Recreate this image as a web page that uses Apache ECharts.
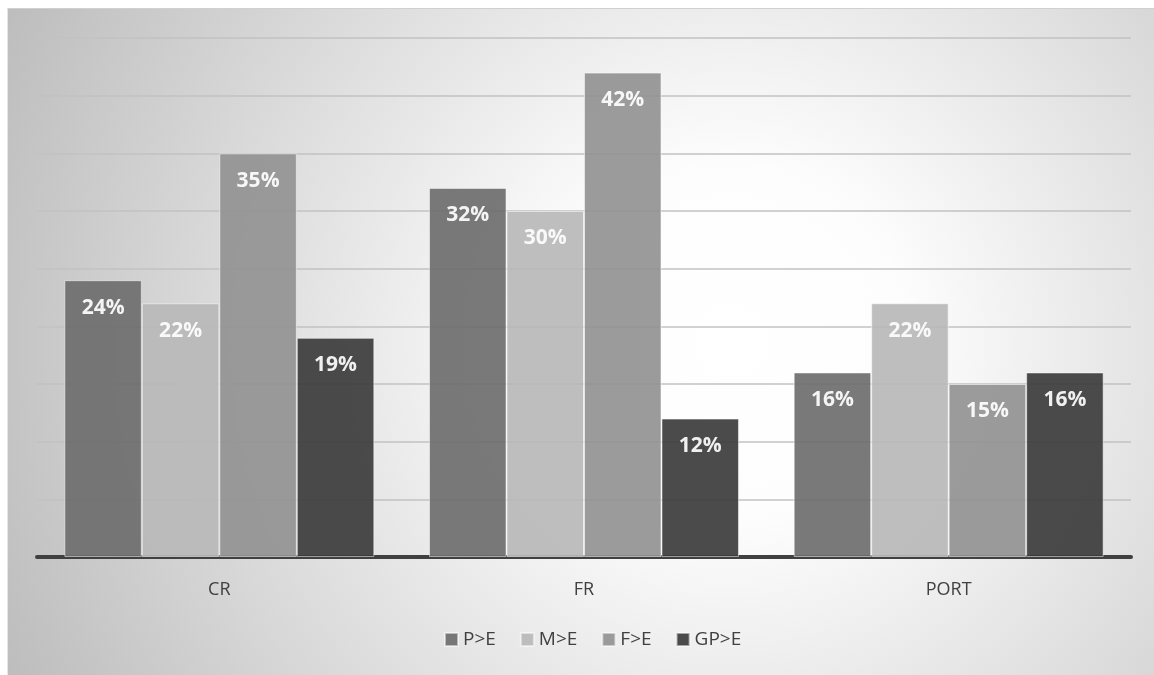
<!DOCTYPE html>
<html>
<head>
<meta charset="utf-8">
<script src="https://cdn.jsdelivr.net/npm/echarts@6/dist/echarts.min.js"></script>
<style>
  html, body { margin: 0; padding: 0; background: #fff; }
  #fondo {
    position: absolute; left: 7px; top: 8px; width: 1147px; height: 667px;
    background: radial-gradient(circle farthest-corner at 63% 50%, #ffffff 0%, #fdfdfd 22%, #bdbdbd 100%);
    border-left: 1px solid #e6e6e6; border-top: 1px solid #d0d0d0;
  }
  #chart { position: absolute; left: 0; top: 0; width: 1154px; height: 675px; }
</style>
</head>
<body>
<div id="fondo"></div>
<div id="chart"></div>
<script>
var categorias = ['CR', 'FR', 'PORT'];
var serieNombres = ['P>E', 'M>E', 'F>E', 'GP>E'];
var serieColores = ['#6e6e6e', '#b8b8b8', '#939393', '#3c3c3c'];
var pe = [24, 32, 16];
var me = [22, 30, 22];
var fe = [35, 42, 15];
var gpe = [19, 12, 16];
var valores = [pe, me, fe, gpe];

var fuente = '"Open Sans", sans-serif';
var chart = echarts.init(document.getElementById('chart'));

var series = serieNombres.map(function (nombre, i) {
    return {
        name: nombre,
        type: 'bar',
        barGap: '0%',
        barCategoryGap: '15%',
        data: valores[i],
        itemStyle: {
            color: serieColores[i],
            opacity: 0.92,
            borderColor: 'rgba(255,255,255,0.55)',
            borderWidth: 1
        },
        label: {
            show: true,
            position: 'insideTop',
            distance: 17,
            color: '#fff',
            fontSize: 21,
            fontWeight: 'bold',
            fontFamily: fuente,
            formatter: '{c}%'
        }
    };
});

var option = {
    animation: false,
    backgroundColor: 'transparent',
    grid: { left: 37, right: 23, top: 38, bottom: 118 },
    xAxis: {
        type: 'category',
        data: categorias,
        axisLine: { lineStyle: { color: '#404040', width: 4 } },
        axisTick: { show: false },
        axisLabel: { color: '#404040', fontSize: 18, fontFamily: fuente, margin: 24 }
    },
    yAxis: {
        type: 'value',
        min: 0,
        max: 45,
        interval: 5,
        axisLabel: { show: false },
        axisLine: { show: false },
        axisTick: { show: false },
        splitLine: { lineStyle: { color: '#c2c2c2', width: 1.5 } }
    },
    legend: {
        data: serieNombres,
        bottom: 21,
        left: 439,
        icon: 'rect',
        itemWidth: 13,
        itemHeight: 13,
        itemGap: 24,
        textStyle: { color: '#404040', fontSize: 19, fontFamily: fuente }
    },
    series: series
};

chart.setOption(option);
</script>
</body>
</html>
